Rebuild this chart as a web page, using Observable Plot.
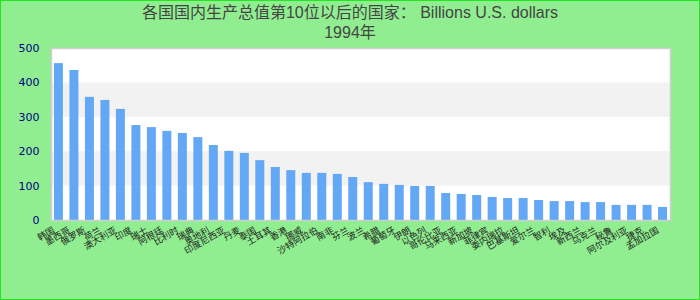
<!DOCTYPE html>
<html>
<head>
<meta charset="utf-8">
<script src="https://cdn.jsdelivr.net/npm/d3@7"></script>
<script src="https://cdn.jsdelivr.net/npm/@observablehq/plot@0.6"></script>
<style>
  html, body { margin: 0; padding: 0; background: #90ee90; }
  #wrap { width: 698px; height: 298px; border: 1px solid #22e622; background: #90ee90; overflow: hidden; }
  #title { height: 41px; padding-top: 2px; box-sizing: border-box; text-align: center; font-family: "Liberation Sans", Arial, "Noto Sans CJK SC", sans-serif; font-size: 16px; line-height: 20px; color: #444; }
  #chart svg { display: block; }
</style>
</head>
<body>
<div id="wrap">
  <div id="title">各国国内生产总值第10位以后的国家： Billions U.S. dollars<br>1994年</div>
  <div id="chart"></div>
</div>
<script>
const categories = ["韩国","墨西哥","俄罗斯","荷兰","澳大利亚","印度","瑞士","阿根廷","比利时","瑞典",
  "奥地利","印度尼西亚","丹麦","泰国","土耳其","香港","挪威","沙特阿拉伯","南非","芬兰",
  "波兰","希腊","葡萄牙","伊朗","以色列","哥伦比亚","马来西亚","新加坡","菲律宾","委内瑞拉",
  "巴基斯坦","爱尔兰","智利","埃及","新西兰","乌克兰","秘鲁","阿尔及利亚","捷克","孟加拉国"];
const values = [456, 436, 358, 349, 323, 276, 270, 259, 253, 241,
  218, 201, 195, 174, 154, 145, 137, 137, 134, 125,
  110, 105, 102, 99, 99, 78.5, 75.6, 72.7, 67, 64,
  64, 58, 55, 55, 52, 52, 44, 44, 44, 38];
const yTicks = [0, 100, 200, 300, 400, 500];

const data = categories.map((c, i) => ({name: c, value: values[i]}));
const stripes = yTicks.slice(0, -1).filter((d, i) => i % 2 === 1).map(d => ({y1: d, y2: yTicks[yTicks.indexOf(d) + 1]}));

const chart = Plot.plot({
  width: 698,
  height: 257,
  marginTop: 6,
  marginBottom: 79,
  marginLeft: 50,
  marginRight: 29,
  style: {background: "transparent", fontFamily: "'DejaVu Sans', sans-serif", overflow: "visible"},
  x: {domain: categories, paddingInner: 0.42, paddingOuter: 0.19, round: false, label: null},
  y: {domain: [0, 500], label: null},
  marks: [
    Plot.frame({fill: "white"}),
    Plot.rect(stripes, {y1: "y1", y2: "y2", fill: "#f2f2f2"}),
    Plot.barY(data, {x: "name", y: "value", fill: "#62a8f4"}),
    Plot.frame({stroke: "#cfcfcf", strokeWidth: 1.5}),
    Plot.axisY({ticks: yTicks, tickSize: 0, tickPadding: 12, fill: "navy", fontSize: 11, label: null}),
    Plot.axisX({tickSize: 0, tickRotate: -30, tickPadding: 6, dx: -5, dy: 3, fontSize: 9, fill: "#222", label: null,
      fontFamily: "'Noto Sans CJK SC', sans-serif"})
  ]
});
document.getElementById("chart").appendChild(chart);
</script>
</body>
</html>
